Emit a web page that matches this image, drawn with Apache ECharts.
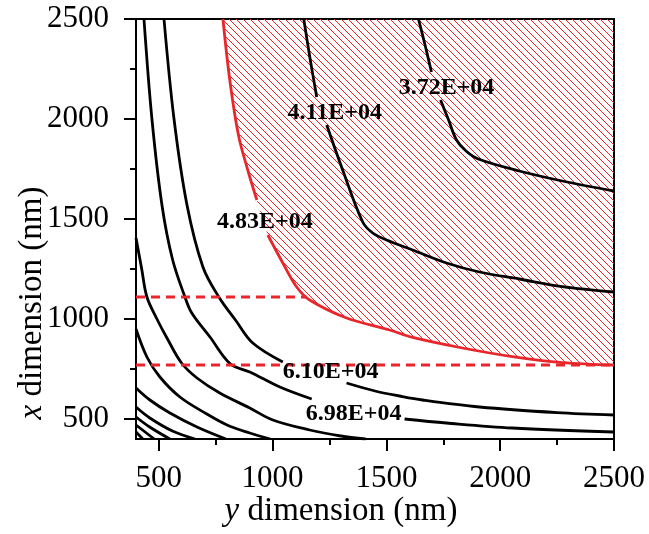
<!DOCTYPE html>
<html>
<head>
<meta charset="utf-8">
<style>
  html, body { margin: 0; padding: 0; background: #fff; }
  #chart { width: 649px; height: 534px; }
</style>
</head>
<body>
<div id="chart"></div>
<script src="https://cdn.jsdelivr.net/npm/echarts@6/dist/echarts.min.js"></script>
<script>
// axis ticks (nm)
var majorTicks = [500, 1000, 1500, 2000, 2500];
var minorTicks = [750, 1250, 1750, 2250];

// contour lines, [y dimension, x dimension], split where a label sits
var c372a = [[1641, 2500], [1670, 2370], [1698, 2235]];
var c372b = [[1738, 2095], [1775, 1990], [1808, 1895], [1850, 1840], [1904, 1800], [2084, 1740], [2273, 1690], [2500, 1640]];
var c411a = [[1137, 2500], [1165, 2300], [1194, 2110]];
var c411b = [[1238, 1970], [1308, 1745], [1396, 1485], [1440, 1430], [1501, 1395], [1615, 1345], [1764, 1280], [1909, 1235], [2084, 1200], [2273, 1162], [2500, 1135]];
var c610a = [[523, 2500], [567, 2000], [624, 1570], [694, 1260], [764, 1110], [840, 990], [913, 880], [1045, 785]];
var c610b = [[1325, 680], [1450, 640], [1558, 615], [1659, 595], [1909, 560], [2250, 532], [2500, 520]];
var c698a = [[435, 2500], [470, 2000], [514, 1570], [560, 1300], [615, 1110], [645, 1030], [725, 910], [815, 775], [900, 735], [1032, 660], [1172, 600]];
var c698b = [[1580, 500], [1764, 480], [2053, 455], [2500, 435]];
var cC = [[400, 1405], [425, 1250], [448, 1110], [492, 1000], [536, 905], [600, 780], [668, 705], [768, 630], [900, 555], [1001, 495], [1163, 445], [1300, 415], [1409, 400]];
var cD = [[400, 950], [448, 810], [505, 710], [593, 610], [711, 525], [800, 470], [900, 430], [990, 400]];
var cE = [[400, 655], [461, 595], [549, 530], [668, 460], [795, 400]];
var cF = [[400, 560], [461, 505], [560, 440], [659, 400]];
var cG = [[400, 510], [460, 460], [549, 400]];
var cH = [[400, 470], [440, 435], [480, 400]];
var cI = [[400, 435], [430, 400]];

// red boundary (4.83E+04) of the hatched region
var redA = [[782, 2500], [812, 2195], [850, 1920], [891, 1745], [931, 1595]];
var redB = [[979, 1420], [1045, 1280], [1106, 1160], [1163, 1095], [1325, 1005], [1514, 945], [1615, 908], [1834, 855], [2053, 812], [2273, 782], [2500, 770]];

// red dashed limits
var dashHigh = [[400, 1110], [1150, 1110]];
var dashLow = [[400, 770], [2500, 770]];

// contour labels
var labelText = ['3.72E+04', '4.11E+04', '4.83E+04', '6.10E+04', '6.98E+04'];
var labelPos = [[1764, 2155], [1273, 2030], [966, 1485], [1255, 735], [1356, 525]];

var RED = '#e8262b';
var FONT = 'Liberation Serif';

// diagonal hatch tile
var tile = document.createElement('canvas');
tile.width = 7; tile.height = 7;
var g = tile.getContext('2d');
g.strokeStyle = RED;
g.lineWidth = 1;
g.beginPath();
g.moveTo(-1, -1); g.lineTo(8, 8);
g.moveTo(-1, 6); g.lineTo(1, 8);
g.moveTo(6, -1); g.lineTo(8, 1);
g.stroke();

var chart = echarts.init(document.getElementById('chart'));

function blackLine(d) {
    return {
        type: 'line', data: d, showSymbol: false, smooth: 0.35,
        lineStyle: { color: '#000', width: 2.8 }, z: 3, silent: true
    };
}
function redLine(d, dashed) {
    return {
        type: 'line', data: d, showSymbol: false, smooth: dashed ? false : 0.35,
        lineStyle: { color: RED, width: 2.8, type: dashed ? [9, 6] : 'solid' }, z: 4, silent: true
    };
}

function axisPair(isX) {
    var common = {
        type: 'value', min: 400, max: 2500,
        position: isX ? 'bottom' : 'left',
        splitLine: { show: false }
    };
    var major = Object.assign({}, common, {
        axisLine: { show: true, lineStyle: { color: '#000', width: 2 } },
        axisTick: { show: true, inside: false, length: 12, customValues: majorTicks, lineStyle: { color: '#000', width: 2 } },
        axisLabel: {
            show: true, customValues: majorTicks, margin: isX ? 24 : 27, color: '#000', fontFamily: FONT, fontSize: 31,
            formatter: function (v) { return String(v); }
        }
    });
    var minor = Object.assign({}, common, {
        axisLine: { show: false },
        axisTick: { show: true, inside: false, length: 6, customValues: minorTicks, lineStyle: { color: '#000', width: 2 } },
        axisLabel: { show: false }
    });
    return [major, minor];
}

var series = [
    {
        type: 'line', data: redA.concat(redB), showSymbol: false, smooth: 0.35,
        lineStyle: { width: 0 }, z: 1, silent: true,
        areaStyle: { origin: 'end', opacity: 1, color: { image: tile, repeat: 'repeat' } }
    },
    redLine(redA), redLine(redB),
    redLine(dashHigh, true), redLine(dashLow, true)
];
[c372a, c372b, c411a, c411b, c610a, c610b, c698a, c698b, cC, cD, cE, cF, cG, cH, cI].forEach(function (d) {
    series.push(blackLine(d));
});
series.push({
    type: 'scatter', symbolSize: 0, z: 5, silent: true,
    itemStyle: { opacity: 1 },
    data: labelPos.map(function (p, i) { return [p[0], p[1], labelText[i]]; }),
    label: {
        show: true, position: 'inside', color: '#000', opacity: 1, textBorderWidth: 0, textBorderColor: 'transparent',
        fontFamily: FONT, fontWeight: 'bold', fontSize: 24,
        formatter: function (p) { return p.data[2]; }
    }
});

var option = {
    animation: false,
    grid: { left: 136, right: 35, top: 19, bottom: 95, show: true, borderColor: '#000', borderWidth: 2, backgroundColor: 'transparent' },
    xAxis: axisPair(true),
    yAxis: axisPair(false),
    graphic: [
        {
            type: 'text', x: 341, y: 511, silent: true,
            style: {
                text: '{i|y} dimension (nm)', fill: '#000', fontFamily: FONT, fontSize: 33,
                align: 'center', verticalAlign: 'middle',
                rich: { i: { fontStyle: 'italic', fontFamily: FONT, fontSize: 33 } }
            }
        },
        {
            type: 'text', x: 32, y: 303, rotation: Math.PI / 2, silent: true,
            style: {
                text: '{i|x} dimension (nm)', fill: '#000', fontFamily: FONT, fontSize: 33,
                align: 'center', verticalAlign: 'middle',
                rich: { i: { fontStyle: 'italic', fontFamily: FONT, fontSize: 33 } }
            }
        }
    ],
    series: series.map(function (s) {
        s.xAxisIndex = 0; s.yAxisIndex = 0; return s;
    })
};

chart.setOption(option);
</script>
</body>
</html>
